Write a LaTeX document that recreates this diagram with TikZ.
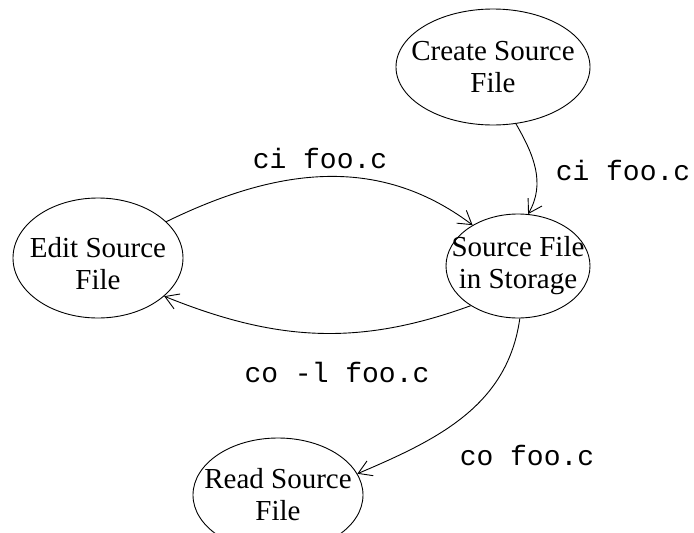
\documentclass[tikz,border=0pt]{standalone}
\usepackage{fontspec}
\setmainfont{Liberation Serif}
\setmonofont{Liberation Mono}
\usepackage{tikz}
\usetikzlibrary{arrows.meta,shapes.geometric}
\tikzset{
  state/.style={draw, ellipse, inner sep=0pt},
  statetext/.style={align=center, inner sep=0pt, font=\fontsize{29}{32}\selectfont},
  cmd/.style={inner sep=0pt, font=\fontsize{28}{32}\selectfont\ttfamily}
}

\begin{document}
\begin{tikzpicture}[x=1pt, y=1pt, line width=0.9pt, >={Straight Barb[length=13pt,width=16pt]}]
\useasboundingbox (0,0) rectangle (694,-533);
\node[state, minimum width=194pt, minimum height=116pt, label={[statetext]center:Create Source\\File}] (create) at (493,-67) {};
\node[state, minimum width=144pt, minimum height=104pt, label={[statetext]center:Source File\\in Storage}] (storage) at (518,-266) {};
\node[state, minimum width=170pt, minimum height=120pt, label={[statetext, yshift=-6pt]center:Edit Source\\File}] (edit) at (98,-258) {};
\node[state, minimum width=170pt, minimum height=114pt, label={[statetext]center:Read Source\\File}] (read) at (278,-495) {};
\node[cmd] (ci1) at (320,-158) {ci foo.c};
\node[cmd] (ci2) at (623,-170) {ci foo.c};
\node[cmd] (col) at (337,-372) {co -l foo.c};
\node[cmd] (co) at (527,-455) {co foo.c};
\draw[->] (edit.28) to[out=26,in=143] (storage.138);
\draw[->] (create.-68) to[out=-60,in=60] (storage.79);
\draw[->] (storage.220) to[out=200,in=-22] (edit.-30);
\draw[->] (storage.-88) to[out=-98,in=23] (read.15);
\end{tikzpicture}
\end{document}
